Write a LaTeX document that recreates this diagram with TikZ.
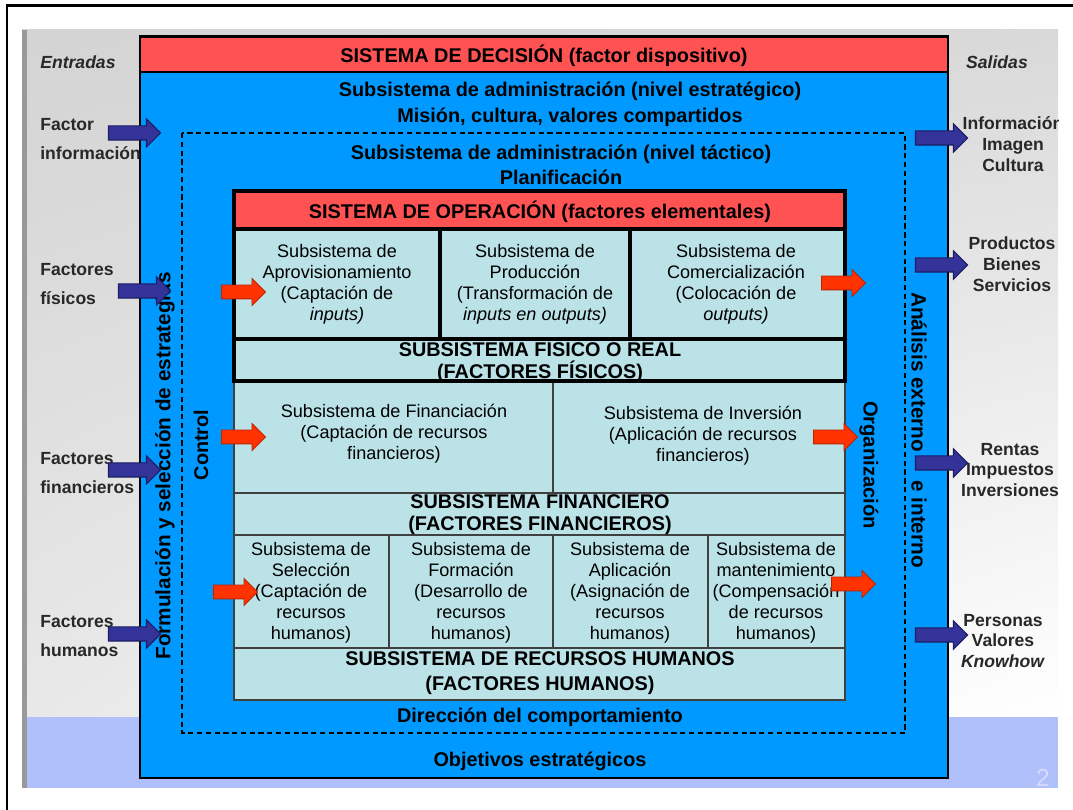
\documentclass[tikz,border=0pt]{standalone}
\usepackage{fontspec}
\setmainfont{Liberation Sans}
\usetikzlibrary{positioning,shapes.arrows,shadings}

\definecolor{decred}{RGB}{255,82,82}
\definecolor{admblue}{RGB}{0,153,255}
\definecolor{cellcyan}{RGB}{187,226,231}
\definecolor{navy}{RGB}{51,51,153}
\definecolor{navyline}{RGB}{30,30,100}
\definecolor{opred}{RGB}{255,51,0}
\definecolor{opredline}{RGB}{190,35,0}
\definecolor{txtgray}{RGB}{40,40,40}
\definecolor{bandblue}{RGB}{176,192,250}

\tikzset{
maintxt/.style={font=\fontsize{11.3}{15}\selectfont\bfseries, align=center, inner sep=0pt},
rowtxt/.style={font=\fontsize{11.3}{12.5}\selectfont\bfseries, align=center, inner sep=0pt},
celltxt/.style={font=\fontsize{10.3}{11.9}\selectfont, align=center, inner sep=0pt},
sidetxt/.style={font=\fontsize{10}{17}\selectfont\bfseries, align=left, anchor=west, inner sep=0pt, text=txtgray},
outtxt/.style={font=\fontsize{10}{11.9}\selectfont\bfseries, align=center, inner sep=0pt, text=txtgray},
vtxt/.style={font=\fontsize{11.8}{14}\selectfont\bfseries, inner sep=0pt},
thinline/.style={draw=black!75, line width=0.6pt},
thickline/.style={draw=black, line width=2.3pt},
inarrow/.style={single arrow, draw=navyline, fill=navy, line width=0.6pt, inner xsep=0pt,
    inner ysep=0.13cm, minimum height=1.04cm, single arrow head extend=0.14cm},
oparrow/.style={single arrow, draw=opredline, fill=opred, line width=0.5pt, inner xsep=0pt,
    inner ysep=0.13cm, minimum height=0.88cm, single arrow head extend=0.13cm}
}

\begin{document}
\begin{tikzpicture}[x=0.02cm,y=-0.02cm]
\useasboundingbox (0,0) rectangle (1073,810);

% slide
\draw[line width=1.7pt] (7,815) -- (7,6) -- (1080,6);
\shade[upper left=black!17, upper right=black!15, lower left=black!9, lower right=white] (22,30) rectangle (1058,717);
\fill[bandblue] (22,717) rectangle (1058,788);
\fill[black!40] (22,30) rectangle (27,788);

% decision system
\fill[admblue] (140,72) rectangle (948,778);
\fill[decred] (140,37) rectangle (948,72);
\draw[line width=1.7pt] (140,37) rectangle (948,778);
\draw[line width=1.2pt] (140,72) -- (948,72);
\draw[line width=0.6pt, dash pattern=on 3pt off 2pt] (182,133) rectangle (905,733);

\node[maintxt] (decision) at (544,56) {SISTEMA DE DECISIÓN (factor dispositivo)};
\node[maintxt] (estrategico) at (570,104) {Subsistema de administración (nivel estratégico)\\Misión, cultura, valores compartidos};
\node[maintxt, font=\fontsize{11.3}{14.2}\selectfont\bfseries] (tactico) at (561,165) {Subsistema de administración (nivel táctico)\\Planificación};
\node[maintxt] (direccion) at (540,717) {Dirección del comportamiento};
\node[maintxt] (objetivos) at (540,761) {Objetivos estratégicos};

% operation system
\fill[cellcyan] (234,229) rectangle (845,700);
\fill[decred] (234,191) rectangle (845,229);
\draw[thinline] (234,381) rectangle (845,700);
\draw[thinline] (234,493) -- (845,493);
\draw[thinline] (234,535) -- (845,535);
\draw[thinline] (234,648) -- (845,648);
\draw[thinline] (553,381) -- (553,493);
\foreach \x in {389,553,708}
  \draw[thinline] (\x,535) -- (\x,648);

\node[rowtxt] (operacion) at (540,212) {SISTEMA DE OPERACIÓN (factores elementales)};
\node[celltxt] (aprov) at (337,284) {Subsistema de\\Aprovisionamiento\\(Captación de\\\textit{inputs)}};
\node[celltxt] (produccion) at (535,284) {Subsistema de\\Producción\\(Transformación de\\\textit{inputs en outputs)}};
\node[celltxt] (comerc) at (736,284) {Subsistema de\\Comercialización\\(Colocación de\\\textit{outputs)}};
\node[rowtxt] (fisico) at (540,361) {SUBSISTEMA FÍSICO O REAL\\(FACTORES FÍSICOS)};

\node[celltxt] (financ) at (394,434) {Subsistema de Financiación\\(Captación de recursos\\financieros)};
\node[celltxt] (inversion) at (703,436) {Subsistema de Inversión\\(Aplicación de recursos\\financieros)};
\node[rowtxt] (financiero) at (540,515) {SUBSISTEMA FINANCIERO\\(FACTORES FINANCIEROS)};

\node[celltxt] (seleccion) at (311,593) {Subsistema de\\Selección\\(Captación de\\recursos\\humanos)};
\node[celltxt] (formacion) at (471,593) {Subsistema de\\Formación\\(Desarrollo de\\recursos\\humanos)};
\node[celltxt] (aplicacion) at (630,593) {Subsistema de\\Aplicación\\(Asignación de\\recursos\\humanos)};
\node[celltxt] (mantenim) at (776,593) {Subsistema de\\mantenimiento\\(Compensación\\de recursos\\humanos)};
\node[rowtxt, font=\fontsize{11.3}{14.2}\selectfont\bfseries] (humanos) at (540,673) {SUBSISTEMA DE RECURSOS HUMANOS\\(FACTORES HUMANOS)};

\draw[thickline] (234,191) rectangle (845,381);
\draw[thickline] (234,229) -- (845,229);
\draw[thickline] (234,339) -- (845,339);
\draw[thickline] (440,229) -- (440,339);
\draw[thickline] (630,229) -- (630,339);

% side texts
\node[vtxt, rotate=90] (formulacion) at (165,466) {Formulación y selección de estrategias};
\node[vtxt, rotate=90, font=\fontsize{11.3}{14}\selectfont\bfseries] (control) at (201,445) {Control};
\node[vtxt, rotate=-90] (analisis) at (919,430) {Análisis externo\hspace{16pt}e interno};
\node[vtxt, rotate=-90, font=\fontsize{11.5}{14}\selectfont\bfseries] (organiz) at (869,465) {Organización};

\node[sidetxt, font=\fontsize{10}{12}\selectfont\bfseries\itshape] (entradas) at (40,62) {Entradas};
\node[sidetxt] (factInfo) at (40,139) {Factor\\información};
\node[sidetxt] (factFis) at (40,284) {Factores\\físicos};
\node[sidetxt] (factFin) at (40,473) {Factores\\financieros};
\node[sidetxt] (factHum) at (40,636) {Factores\\humanos};

\node[outtxt, font=\fontsize{10}{12}\selectfont\bfseries\itshape] (salidas) at (997,62) {Salidas};
\begin{scope}
\clip (22,30) rectangle (1058,788);
\node[outtxt] (outInfo) at (1013,144) {Información\\Imagen\\Cultura};
\end{scope}
\node[outtxt] (outProd) at (1012,264) {Productos\\Bienes\\Servicios};
\node[outtxt] (outRent) at (1010,470) {Rentas\\Impuestos\\Inversiones};
\node[outtxt] (outPers) at (1003,641) {Personas\\Valores\\\textit{Knowhow}};

\node[font=\fontsize{14}{14}\selectfont, text=white!85!blue] (pagenum) at (1043,778) {2};

% arrows
\node[inarrow] (arrInfo) at (131,133) {};
\node[inarrow] (arrFis) at (141,291) {};
\node[inarrow] (arrFin) at (131,470) {};
\node[inarrow] (arrHum) at (131,634) {};
\node[inarrow] (arrOutInfo) at (938,138) {};
\node[inarrow] (arrOutProd) at (938,265) {};
\node[inarrow] (arrOutRent) at (938,463) {};
\node[inarrow] (arrOutPers) at (938,635) {};

\node[oparrow] (arrAprov) at (240,292) {};
\node[oparrow] (arrComerc) at (840,283) {};
\node[oparrow] (arrFinanc) at (240,437) {};
\node[oparrow] (arrInver) at (832,437) {};
\node[oparrow] (arrSelec) at (232,592) {};
\node[oparrow] (arrMant) at (850,584) {};
\end{tikzpicture}
\end{document}
